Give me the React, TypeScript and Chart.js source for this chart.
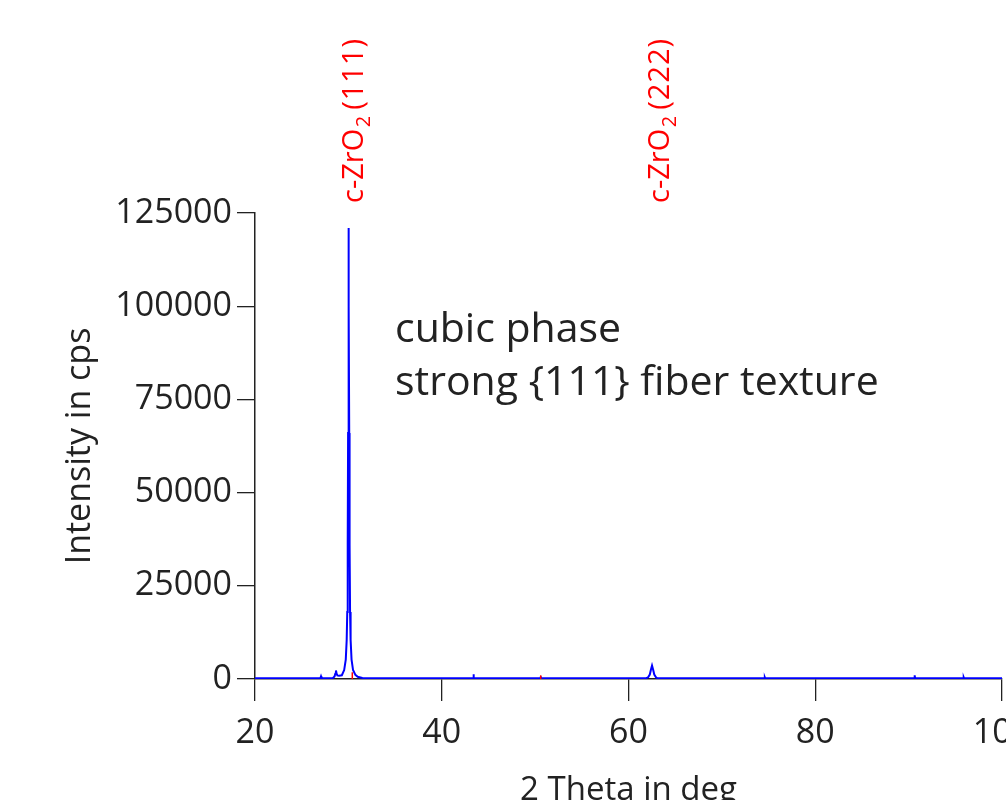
import React, { useEffect, useRef } from "react";
import { Chart, registerables } from "chart.js";

Chart.register(...registerables);

// Measured XRD pattern (2θ in deg, intensity in cps)
const twoTheta = [
  20.0, 27.0, 27.07, 27.14, 28.35, 28.52, 28.6, 28.67, 28.74, 28.82, 29.0, 29.3,
  29.55, 29.72, 29.82, 29.88, 29.93, 29.97, 30.0, 30.03, 30.06, 30.09, 30.13,
  30.18, 30.24, 30.34, 30.5, 30.75, 31.0, 31.5, 32.5, 43.36, 43.4, 43.44, 50.56,
  50.6, 50.64, 60.06, 60.1, 60.14, 61.9, 62.1, 62.28, 62.4, 62.52, 62.64, 62.76,
  62.94, 63.1, 74.56, 74.6, 74.64, 90.61, 90.65, 90.69, 95.86, 95.9, 95.94, 100.0,
];
const intensity = [
  200, 200, 700, 200, 260, 700, 1400, 2300, 1400, 950, 850, 1000,
  2400, 5200, 10500, 18000, 36000, 66000, 100000, 121000, 100000, 66000, 36000,
  18000, 10500, 5200, 2400, 1100, 600, 300, 200, 200, 1300, 200, 200,
  700, 200, 200, 450, 200, 200, 450, 1200, 2500, 3600, 2500, 1200,
  450, 200, 200, 450, 200, 200, 1000, 200, 200, 450, 200, 200,
];

// Reference reflection sticks (red)
const refAngles = [30.42, 50.6];
const refIntensity = [1800, 1000];

// Peak labels
const peakPhase = "c-ZrO";
const peakSub = "2";
const peakNames = ["(111)", "(222)"];
const peakLabelAngles = [30.42, 63.2];

const xTickValues = [20, 40, 60, 80, 100];
const yTickValues = [0, 25000, 50000, 75000, 100000, 125000];

const noteLines = ["cubic phase", "strong {111} fiber texture"];
const xTitle = "2 Theta in deg";
const yTitle = "Intensity in cps";

const FONT = '"Open Sans", "Noto Sans", sans-serif';
const INK = "#222222";

export default function App() {
  const canvasRef = useRef<HTMLCanvasElement | null>(null);

  useEffect(() => {
    const canvas = canvasRef.current;
    if (!canvas) return;

    const overlay = {
      id: "overlay",
      afterDraw(chart: any) {
        const ctx = chart.ctx as CanvasRenderingContext2D;
        const xs = chart.scales.x;
        const area = chart.chartArea;

        // Peak labels (rotated, red)
        peakNames.forEach((name, i) => {
          const px = xs.getPixelForValue(peakLabelAngles[i]);
          ctx.save();
          ctx.translate(px, 203);
          ctx.rotate(-Math.PI / 2);
          ctx.fillStyle = "#ff0000";
          ctx.textAlign = "left";
          ctx.textBaseline = "alphabetic";
          const off = 10.5;
          ctx.font = `29px ${FONT}`;
          let cx = 0;
          ctx.fillText(peakPhase, cx, off);
          cx += ctx.measureText(peakPhase).width + 1.5;
          ctx.font = `20px ${FONT}`;
          ctx.fillText(peakSub, cx, off + 7);
          cx += ctx.measureText(peakSub).width + 6;
          ctx.font = `29px ${FONT}`;
          (ctx as any).letterSpacing = "1px";
          ctx.fillText(name, cx, off);
          ctx.restore();
        });

        // Annotation
        ctx.save();
        ctx.fillStyle = INK;
        ctx.font = `41px ${FONT}`;
        ctx.textAlign = "left";
        ctx.textBaseline = "alphabetic";
        noteLines.forEach((line, i) => {
          ctx.fillText(line, 395, 342 + i * 53);
        });
        ctx.restore();

        // Axis titles
        ctx.save();
        ctx.fillStyle = INK;
        ctx.font = `33px ${FONT}`;
        ctx.textAlign = "center";
        ctx.textBaseline = "alphabetic";
        ctx.fillText(xTitle, xs.getPixelForValue(60), 800);
        ctx.translate(90, (area.top + area.bottom) / 2);
        ctx.rotate(-Math.PI / 2);
        ctx.font = `34px ${FONT}`;
        ctx.fillText(yTitle, 0, 0);
        ctx.restore();
      },
    };

    const stickSets = refAngles.map((a, i) => ({
      data: [
        { x: a, y: 0 },
        { x: a, y: refIntensity[i] },
      ],
      borderColor: "#ff0000",
      borderWidth: 1.5,
      pointRadius: 0,
      fill: false,
    }));

    const chart = new Chart(canvas, {
      type: "line",
      data: {
        datasets: [
          ...stickSets,
          {
            data: twoTheta.map((x, i) => ({ x, y: intensity[i] })),
            borderColor: "#0000ff",
            borderWidth: 2,
            pointRadius: 0,
            fill: false,
            tension: 0,
          },
        ],
      },
      options: {
        animation: false,
        responsive: false,
        devicePixelRatio: 1,
        parsing: false,
        layout: { autoPadding: false, padding: { top: 213, right: 4, left: 0, bottom: 0 } },
        plugins: { legend: { display: false }, tooltip: { enabled: false } },
        scales: {
          x: {
            type: "linear",
            min: 20,
            max: 100,
            afterBuildTicks: (s: any) => {
              s.ticks = xTickValues.map((v) => ({ value: v }));
            },
            afterFit: (s: any) => {
              s.height = 161;
              s.paddingLeft = 0;
              s.paddingRight = 0;
            },
            ticks: {
              font: { family: FONT, size: 34 },
              color: INK,
              padding: 12,
              maxRotation: 0,
              autoSkip: false,
            },
            grid: { drawOnChartArea: false, drawTicks: true, tickLength: 22, color: INK, lineWidth: 1.3 },
            border: { display: true, color: INK, width: 1.5 },
          },
          y: {
            type: "linear",
            min: 0,
            max: 125000,
            afterBuildTicks: (s: any) => {
              s.ticks = yTickValues.map((v) => ({ value: v }));
            },
            afterFit: (s: any) => {
              s.width = 255;
              s.paddingTop = 0;
              s.paddingBottom = 0;
            },
            ticks: {
              font: { family: FONT, size: 34 },
              color: INK,
              padding: 5,
              autoSkip: false,
              callback: (v: any) => String(v),
            },
            grid: { drawOnChartArea: false, drawTicks: true, tickLength: 18, color: INK, lineWidth: 1.3 },
            border: { display: true, color: INK, width: 1.5 },
          },
        },
      },
      plugins: [overlay],
    } as any);

    return () => chart.destroy();
  }, []);

  return (
    <div
      style={{
        position: "absolute",
        left: 0,
        top: 0,
        width: 1006,
        height: 800,
        overflow: "hidden",
        background: "#ffffff",
      }}
    >
      <canvas ref={canvasRef} width={1006} height={840} style={{ display: "block" }} />
    </div>
  );
}
